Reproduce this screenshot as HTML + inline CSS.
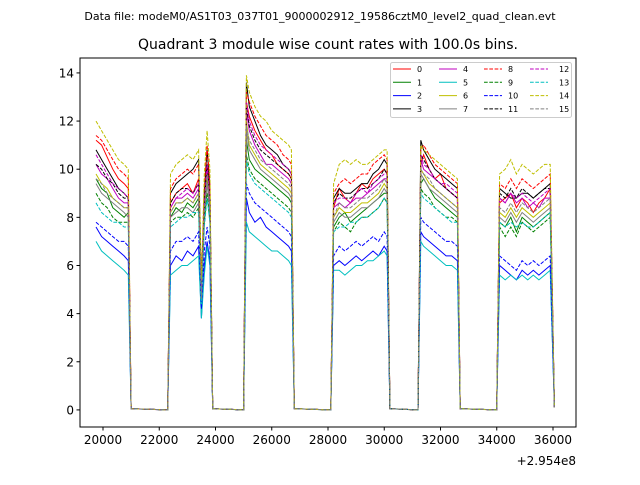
<!DOCTYPE html>
<html><head><meta charset="utf-8"><style>
body{margin:0;background:#fff;font-family:"Liberation Sans","DejaVu Sans",sans-serif}
svg text{font-family:"DejaVu Sans","Liberation Sans",sans-serif}
</style></head><body>
<svg id="c" width="640" height="480" viewBox="0 0 640 480">
<text x="320" y="20" font-size="11" text-anchor="middle">Data file: modeM0/AS1T03_037T01_9000002912_19586cztM0_level2_quad_clean.evt</text>
<text x="328" y="49" font-size="14" text-anchor="middle">Quadrant 3 module wise count rates with 100.0s bins.</text>
<g id="series"></g>
<rect x="80" y="58" width="496" height="369" fill="none" stroke="#000" stroke-width="1"/>
<g id="axes"></g>
<text x="576" y="465" font-size="12" text-anchor="end">+2.954e8</text>
<g id="legend"></g>
</svg>
<script>
const times=[19750,19950,20150,20350,20550,20750,20900,21000,22300,22400,22600,22800,23000,23200,23400,23500,23600,23700,23800,23900,25000,25100,25200,25400,25600,25800,26000,26200,26400,26600,26700,26800,28100,28200,28400,28600,28800,29000,29200,29400,29600,29800,30000,30100,30200,31200,31300,31400,31600,31800,32000,32200,32400,32600,32700,34000,34100,34300,34500,34700,34900,35100,35300,35500,35700,35900,36050];
const xTicks=[20000,22000,24000,26000,28000,30000,32000,34000,36000];
const yTicks=[0,2,4,6,8,10,12,14];
const s0=[11.2,11.0,10.5,10.0,9.6,9.4,9.2,0.05,0,8.6,9.0,9.2,9.4,9.0,9.6,5.2,8.6,10.2,8.8,0.05,0,12.8,12.2,11.6,11.2,10.8,10.6,10.2,10.0,9.8,9.6,0.05,0,8.4,9.2,8.8,8.6,9.0,9.4,9.2,9.6,9.8,10.0,9.8,0.05,0,10.2,10.6,10.0,9.6,9.8,9.2,9.0,8.8,0.05,0,8.6,8.8,9.0,8.4,8.8,8.6,8.2,8.6,8.8,9.2,0.1];
const s1=[9.6,9.2,9.0,8.4,8.2,8.0,8.2,0.05,0,8.0,8.4,8.2,8.6,8.4,8.8,4.8,8.0,9.6,8.2,0.05,0,11.2,10.4,10.0,9.8,9.6,9.4,9.2,9.0,8.8,8.6,0.05,0,7.6,8.0,8.2,7.8,8.0,8.2,8.4,8.6,8.8,9.0,9.0,0.05,0,9.4,9.6,9.2,8.8,8.6,8.4,8.2,8.0,0.05,0,7.8,7.6,8.0,7.4,8.0,7.8,7.6,7.8,8.0,8.2,0.1];
const s2=[7.6,7.2,7.0,6.8,6.6,6.4,6.2,0.05,0,6.0,6.4,6.2,6.6,6.4,6.8,3.8,6.0,7.0,6.2,0.05,0,8.8,8.2,7.8,8.0,7.6,7.4,7.2,7.0,6.8,6.6,0.05,0,6.0,6.2,6.0,6.2,6.4,6.2,6.4,6.6,6.4,6.8,6.6,0.05,0,7.4,7.2,7.0,6.8,6.6,6.4,6.4,6.2,0.05,0,6.0,5.8,5.6,5.4,5.8,5.6,5.8,5.6,5.8,6.0,0.1];
const s3=[10.8,10.4,10.0,9.6,9.2,9.0,8.8,0.05,0,9.0,9.4,9.6,9.8,10.0,10.4,5.0,9.0,10.8,9.2,0.05,0,13.6,12.6,12.0,11.4,11.0,10.8,10.6,10.2,10.0,9.8,0.05,0,8.8,9.2,9.0,9.0,9.2,9.4,9.4,9.8,10.0,10.4,10.2,0.05,0,11.2,10.8,10.4,10.0,9.8,9.6,9.4,9.2,0.05,0,9.2,9.0,8.8,8.8,9.0,9.0,8.8,9.0,9.2,9.4,0.1];
const s4=[10.2,9.8,9.6,9.2,8.8,8.6,8.6,0.05,0,8.4,8.8,8.8,9.0,8.8,9.2,4.6,8.4,10.0,8.6,0.05,0,12.4,11.6,11.0,10.6,10.2,10.2,10.0,9.8,9.6,9.4,0.05,0,8.4,8.6,8.4,8.6,8.8,8.8,9.0,9.2,9.4,9.6,9.6,0.05,0,10.4,10.0,9.8,9.6,9.4,9.2,9.0,8.8,0.05,0,8.8,8.6,9.0,8.6,8.8,8.4,8.6,8.4,8.8,8.8,0.1];
const s5=[7.0,6.6,6.4,6.2,6.0,5.8,5.6,0.05,0,5.6,5.8,6.0,6.0,6.2,6.4,3.8,5.6,6.8,6.0,0.05,0,7.8,7.4,7.2,7.0,6.8,6.6,6.6,6.4,6.2,6.0,0.05,0,5.8,5.8,5.6,5.8,6.0,6.0,6.2,6.2,6.4,6.6,6.4,0.05,0,7.0,6.8,6.6,6.4,6.2,6.0,6.0,5.8,0.05,0,5.6,5.4,5.6,5.4,5.6,5.4,5.6,5.4,5.6,5.8,0.1];
const s6=[9.8,9.4,9.2,8.8,8.6,8.4,8.4,0.05,0,8.2,8.6,8.6,8.8,8.6,9.0,4.8,8.2,9.8,8.4,0.05,0,12.0,11.0,10.6,10.2,10.0,9.8,9.6,9.4,9.2,9.0,0.05,0,8.0,8.4,8.2,8.2,8.4,8.6,8.6,8.8,9.0,9.4,9.2,0.05,0,10.0,9.8,9.4,9.2,9.0,8.8,8.6,8.4,0.05,0,8.2,8.0,8.4,8.0,8.4,8.2,8.0,8.2,8.4,8.6,0.1];
const s7=[9.4,9.0,8.8,8.6,8.4,8.2,8.0,0.05,0,8.0,8.2,8.4,8.4,8.2,8.6,4.6,8.0,9.4,8.2,0.05,0,11.6,10.8,10.4,10.0,9.8,9.6,9.4,9.2,9.0,8.8,0.05,0,7.8,8.2,8.0,8.0,8.2,8.4,8.4,8.6,8.8,9.2,9.0,0.05,0,9.8,9.6,9.2,9.0,8.8,8.6,8.4,8.2,0.05,0,8.0,7.8,8.2,7.8,8.2,8.0,7.8,8.0,8.2,8.4,0.1];
const s8=[11.4,11.2,10.8,10.4,10.0,9.8,9.6,0.05,0,9.2,9.6,9.8,10.0,9.8,10.2,5.2,9.2,11.0,9.4,0.05,0,13.2,12.8,12.2,11.8,11.4,11.2,11.0,10.6,10.4,10.2,0.05,0,9.0,9.4,9.6,9.4,9.6,9.8,9.8,10.2,10.4,10.6,10.4,0.05,0,10.8,11.0,10.6,10.2,10.0,9.8,9.6,9.4,0.05,0,9.4,9.2,9.6,9.2,9.6,9.4,9.2,9.4,9.6,9.8,0.1];
const s9=[9.0,8.6,8.4,8.0,7.8,7.8,7.8,0.05,0,7.8,8.0,8.0,8.2,8.0,8.4,4.6,7.8,9.0,7.8,0.05,0,10.6,10.0,9.6,9.4,9.2,9.0,8.8,8.6,8.4,8.2,0.05,0,7.4,7.8,7.6,7.4,7.8,8.0,8.0,8.2,8.4,8.8,8.6,0.05,0,9.2,9.0,8.8,8.4,8.2,8.0,8.0,7.8,0.05,0,7.6,7.2,7.6,7.2,7.8,7.6,7.4,7.6,7.8,8.0,0.1];
const s10=[7.8,7.6,7.4,7.2,7.0,7.0,6.8,0.05,0,6.6,7.0,7.0,7.2,7.0,7.4,4.2,6.6,7.6,6.8,0.05,0,9.4,9.0,8.6,8.4,8.2,8.0,7.8,7.6,7.4,7.2,0.05,0,6.4,6.8,6.6,6.8,7.0,6.8,7.0,7.2,7.0,7.4,7.2,0.05,0,8.0,7.8,7.6,7.4,7.2,7.0,7.0,6.8,0.05,0,6.4,6.2,6.0,5.8,6.2,6.0,6.2,6.0,6.2,6.4,0.1];
const s11=[10.2,10.0,9.6,9.4,9.0,8.8,8.8,0.05,0,8.6,9.0,9.2,9.2,9.0,9.4,4.8,8.6,10.2,8.8,0.05,0,12.6,11.8,11.2,10.8,10.6,10.4,10.2,10.0,9.8,9.6,0.05,0,8.6,9.0,8.8,8.8,9.0,9.2,9.2,9.4,9.6,10.0,9.8,0.05,0,10.6,10.4,10.0,9.6,9.4,9.2,9.0,8.8,0.05,0,9.0,8.8,9.2,8.8,9.2,9.0,8.8,9.0,9.2,9.2,0.1];
const s12=[10.6,10.2,9.8,9.4,9.2,9.0,8.8,0.05,0,8.4,8.8,9.0,9.2,9.0,9.4,4.8,8.4,10.2,8.6,0.05,0,12.8,12.0,11.4,11.0,10.8,10.6,10.4,10.2,10.0,9.8,0.05,0,8.6,8.8,8.8,8.6,9.0,9.2,9.0,9.4,9.6,9.8,9.8,0.05,0,10.6,10.2,10.0,9.6,9.4,9.4,9.2,9.0,0.05,0,8.8,8.6,9.0,8.8,9.0,8.8,8.6,8.8,9.0,9.2,0.1];
const s13=[8.6,8.2,8.0,7.8,7.8,7.6,7.6,0.05,0,7.6,7.8,8.0,8.0,8.2,8.2,4.4,7.6,8.8,7.8,0.05,0,10.4,9.8,9.4,9.2,9.0,8.8,8.6,8.4,8.2,8.0,0.05,0,7.4,7.6,7.6,7.8,7.8,8.0,8.0,8.2,8.4,8.8,8.6,0.05,0,9.0,8.8,8.6,8.4,8.2,8.0,7.8,7.8,0.05,0,7.8,7.6,7.8,7.6,7.8,7.6,7.6,7.8,8.0,8.2,0.1];
const s14=[12.0,11.6,11.2,10.8,10.4,10.2,10.0,0.05,0,9.8,10.2,10.4,10.6,10.4,10.8,5.4,9.8,11.6,10.0,0.05,0,13.9,13.2,12.6,12.2,12.0,11.6,11.4,11.2,11.0,10.8,0.05,0,9.4,10.2,10.4,10.2,10.4,10.2,10.2,10.4,10.6,10.8,10.8,0.05,0,11.0,10.8,10.6,10.4,10.2,10.0,9.8,9.6,0.05,0,9.8,10.0,10.4,9.8,10.2,10.0,9.8,10.0,10.2,10.2,0.1];
const s15=[9.6,9.4,9.0,8.8,8.6,8.4,8.4,0.05,0,8.2,8.6,8.6,8.8,8.6,9.0,4.6,8.2,9.8,8.4,0.05,0,11.8,11.2,10.8,10.4,10.2,10.0,9.8,9.6,9.4,9.2,0.05,0,8.0,8.6,8.4,8.4,8.6,8.8,8.8,9.0,9.2,9.6,9.4,0.05,0,10.0,9.8,9.6,9.2,9.0,8.8,8.6,8.4,0.05,0,8.4,8.2,8.6,8.2,8.6,8.4,8.2,8.4,8.6,8.8,0.1];
const seriesList=[s0,s1,s2,s3,s4,s5,s6,s7,s8,s9,s10,s11,s12,s13,s14,s15];
const seriesNames=["0","1","2","3","4","5","6","7","8","9","10","11","12","13","14","15"];
const colors=["#ff0000","#008000","#0000ff","#000000","#bf00bf","#00bfbf","#bfbf00","#808080"];
const NS="http://www.w3.org/2000/svg";
const X0=19182,X1=36818,Y0=-0.71,Y1=14.62,L=80,R=576,T=58,B=427;
function xs(v){return L+(v-X0)/(X1-X0)*(R-L);}
function ys(v){return B-(v-Y0)/(Y1-Y0)*(B-T);}
function mk(tag,attrs,parent){const e=document.createElementNS(NS,tag);for(const k in attrs)e.setAttribute(k,attrs[k]);parent.appendChild(e);return e;}
const sg=document.getElementById('series');
seriesList.forEach((s,i)=>{
  let d='';
  s.forEach((v,j)=>{if(j<times.length)d+=(j?'L':'M')+xs(times[j]).toFixed(1)+','+ys(v).toFixed(1);});
  const p=mk('path',{d:d,fill:'none',stroke:colors[i%8],'stroke-width':1},sg);
  if(i>=8)p.setAttribute('stroke-dasharray','3.7,1.6');
  
  
});
const ax=document.getElementById('axes');
xTicks.forEach(t=>{
  const x=xs(t);
  const l=mk('line',{x1:x,x2:x,y1:B,y2:B+3.5,stroke:'#000'},ax);
  
  
  const tx=mk('text',{x:x,y:B+17,'font-size':12,'text-anchor':'middle'},ax);
  tx.textContent=t;
  
  
});
yTicks.forEach(t=>{
  const y=ys(t);
  const l=mk('line',{x1:L-3.5,x2:L,y1:y,y2:y,stroke:'#000'},ax);
  
  
  const tx=mk('text',{x:L-6,y:y+4.5,'font-size':12,'text-anchor':'end'},ax);
  tx.textContent=t;
  
  
});
const lg=document.getElementById('legend');
const box=mk('rect',{x:390.5,y:62.5,width:181,height:55,rx:2,fill:'#fff','fill-opacity':0.8,stroke:'#ccc'},lg);


const colX=[393,439,484,530],labX=[417,463,508,559];
seriesNames.forEach((n,i)=>{
  const c=Math.floor(i/4),r=i%4,y=69+r*13.3;
  const l=mk('line',{x1:colX[c],x2:colX[c]+18,y1:y,y2:y,stroke:colors[i%8],'stroke-width':1},lg);
  if(i>=8)l.setAttribute('stroke-dasharray','3.7,1.6');
  
  
  const t=mk('text',{x:labX[c],y:y+3,'font-size':8},lg);
  t.textContent=n;
  
  
});
</script>
</body></html>
